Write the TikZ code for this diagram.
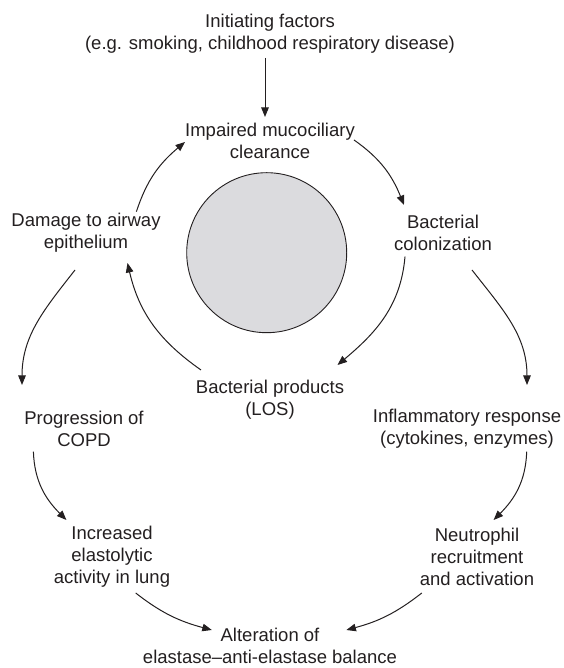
\documentclass[tikz,border=0pt]{standalone}
\usepackage{fontspec}
\setmainfont{Liberation Sans}
\usetikzlibrary{arrows.meta}
\definecolor{ink}{RGB}{35,31,32}
\definecolor{disc}{RGB}{219,219,222}
\begin{document}
\begin{tikzpicture}[x=1pt,y=1pt,
  lbl/.style={align=center,inner sep=2pt,text=ink,font=\fontsize{18.5}{22}\selectfont},
  arr/.style={draw=ink,line width=1pt,-{Triangle[length=9.5pt,width=7.5pt]}}]
\useasboundingbox (0,0) rectangle (563,668);
\node[lbl] (init) at (270,634.5) {Initiating factors\\(e.g. smoking, childhood respiratory disease)};
\node[lbl] (imp) at (270,527.5) {Impaired mucociliary\\clearance};
\node[lbl] (dam) at (86,435) {Damage to airway\\epithelium};
\node[lbl] (bc) at (443,435) {Bacterial\\colonization};
\node[lbl] (bp) at (270,268) {Bacterial products\\(LOS)};
\node[lbl] (prog) at (84,239) {Progression of\\COPD};
\node[lbl] (infl) at (467,239) {Inflammatory response\\(cytokines, enzymes)};
\node[lbl] (incr) at (112,111) {Increased\\elastolytic\\activity in lung};
\node[lbl] (neut) at (477,111) {Neutrophil\\recruitment\\and activation};
\node[lbl] (alt) at (270,22) {Alteration of\\elastase--anti-elastase balance};
\node[draw=ink,line width=0.9pt,fill=disc,circle,minimum size=160pt,inner sep=0pt] (disk) at (266.7,415.3) {};
% connectors
\draw[arr] ([shift={(-5,-24.5)}]init.center) -- ([shift={(-5,23.5)}]imp.center);
\draw[arr] ([shift={(84,0.5)}]imp.center) to[out=-35,in=112] ([shift={(-39,28)}]bc.center);
\draw[arr] ([shift={(-38,-23.7)}]bc.center) to[out=-95,in=40] ([shift={(67.5,35)}]bp.center);
\draw[arr] ([shift={(-69,30)}]bp.center) to[out=145,in=-77] ([shift={(41.5,-30)}]dam.center);
\draw[arr] ([shift={(50.4,21.3)}]dam.center) to[out=72,in=220] ([shift={(-85,-1.5)}]imp.center);
\draw[arr] ([shift={(-11,-37)}]dam.center) to[out=-128,in=90] ([shift={(-62,44)}]prog.center);
\draw[arr] ([shift={(29,-37)}]bc.center) to[out=-52,in=90] ([shift={(60,44)}]infl.center);
\draw[arr] ([shift={(-50.6,-22.7)}]prog.center) to[out=-88,in=135] ([shift={(-45.6,37)}]incr.center);
\draw[arr] ([shift={(59.7,-22.7)}]infl.center) to[out=-92,in=45] ([shift={(16.6,37)}]neut.center);
\draw[arr] ([shift={(23.7,-36)}]incr.center) to[out=-38,in=165] ([shift={(-58.2,16)}]alt.center);
\draw[arr] ([shift={(-55.2,-36)}]neut.center) to[out=-142,in=15] ([shift={(76.4,16)}]alt.center);
\end{tikzpicture}
\end{document}
